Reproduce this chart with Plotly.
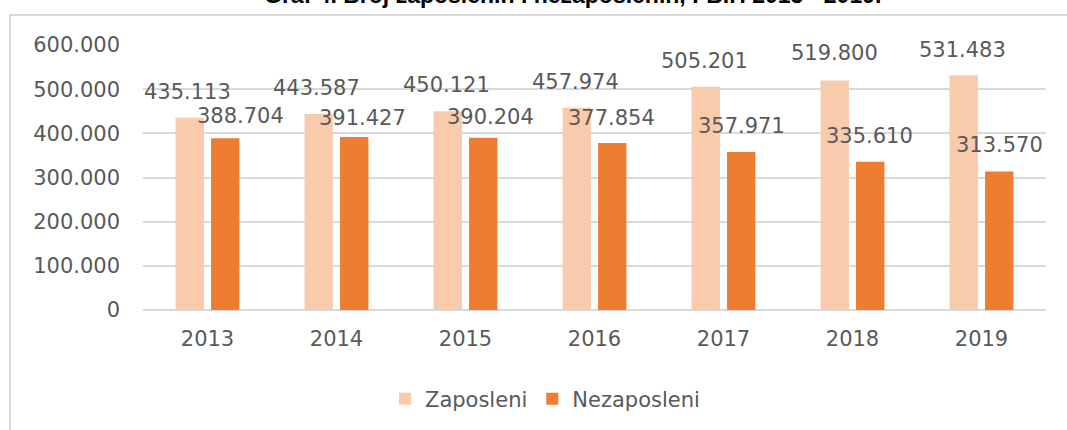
import plotly.graph_objects as go

years = ["2013", "2014", "2015", "2016", "2017", "2018", "2019"]
zaposleni = [435113, 443587, 450121, 457974, 505201, 519800, 531483]
nezaposleni = [388704, 391427, 390204, 377854, 357971, 335610, 313570]
y_ticks = [0, 100000, 200000, 300000, 400000, 500000, 600000]

title_text = "Graf 4. Broj zaposlenih i nezaposlenih, FBiH 2013 - 2019."

LIGHT = "#F8CBAD"
DARK = "#ED7D31"
TXT = "#595959"
GRID = "#D9D9D9"
FONT = "DejaVu Sans"

# label offsets (pixels) relative to category centre / bar top
light_dx = [-20, -20, -19, -19.5, -19, -18, -19.5]
light_dy = [26, 26, 26, 26, 26, 27, 25]
dark_dx = [32.5, 26, 24.5, 17, 17.5, 17, 17.5]
dark_dy = [22, 19, 21, 25, 26, 26, 27]

W, H = 1067, 430
ML, MR, MT, MB = 143, 21, 45, 119

fig = go.Figure()
fig.add_trace(go.Bar(x=years, y=zaposleni, name="Zaposleni", marker=dict(color=LIGHT, line=dict(width=0))))
fig.add_trace(go.Bar(x=years, y=nezaposleni, name="Nezaposleni", marker=dict(color=DARK, line=dict(width=0))))


def fmt(v):
    return f"{v:,}".replace(",", ".")


annotations = []
for i, yr in enumerate(years):
    annotations.append(dict(x=i, y=zaposleni[i], xref="x", yref="y", text=fmt(zaposleni[i]),
                            showarrow=False, xshift=light_dx[i], yshift=light_dy[i],
                            xanchor="center", yanchor="middle",
                            font=dict(family=FONT, size=21, color=TXT)))
    annotations.append(dict(x=i, y=nezaposleni[i], xref="x", yref="y", text=fmt(nezaposleni[i]),
                            showarrow=False, xshift=dark_dx[i], yshift=dark_dy[i],
                            xanchor="center", yanchor="middle",
                            font=dict(family=FONT, size=21, color=TXT)))

pw = W - ML - MR
ph = H - MT - MB


def px_x(p):
    return (p - ML) / pw


def px_y(p):
    return (H - MB - p) / ph


annotations.append(dict(x=px_x(572), y=px_y(10), xref="paper", yref="paper", text="<b>" + title_text + "</b>",
                        showarrow=False, xanchor="center", yanchor="bottom",
                        font=dict(family="Liberation Sans", size=23, color="#000000")))

shapes = [dict(type="rect", xref="paper", yref="paper", x0=px_x(10), x1=px_x(1090), y0=px_y(15), y1=px_y(460),
               line=dict(color=GRID, width=2), fillcolor="rgba(0,0,0,0)", layer="below")]

fig.update_layout(
    width=W, height=H,
    margin=dict(l=ML, r=MR, t=MT, b=MB, pad=0),
    paper_bgcolor="white", plot_bgcolor="white",
    separators=",.",
    barmode="group", bargap=0.45, bargroupgap=0.2,
    showlegend=True,
    legend=dict(orientation="h", x=px_x(545), xanchor="center", y=px_y(399), yanchor="middle",
                font=dict(family=FONT, size=21, color=TXT), itemwidth=30,
                bgcolor="rgba(0,0,0,0)", traceorder="normal"),
    annotations=annotations,
    shapes=shapes,
    xaxis=dict(type="category", range=[-0.5, len(years) - 0.5], showgrid=False, showline=False,
               zeroline=False, ticks="",
               tickfont=dict(family=FONT, size=21, color=TXT), ticklabelstandoff=14),
    yaxis=dict(range=[0, 600000], tickvals=y_ticks, tickformat=",d", showgrid=True, gridcolor=GRID,
               gridwidth=2, zeroline=True, zerolinecolor=GRID, zerolinewidth=2, showline=False, ticks="",
               tickfont=dict(family=FONT, size=21, color=TXT), ticklabelstandoff=22),
)

fig.write_html("out.html", config={"displayModeBar": False},
               post_script="document.body.style.margin='0';document.body.style.overflow='hidden';")
